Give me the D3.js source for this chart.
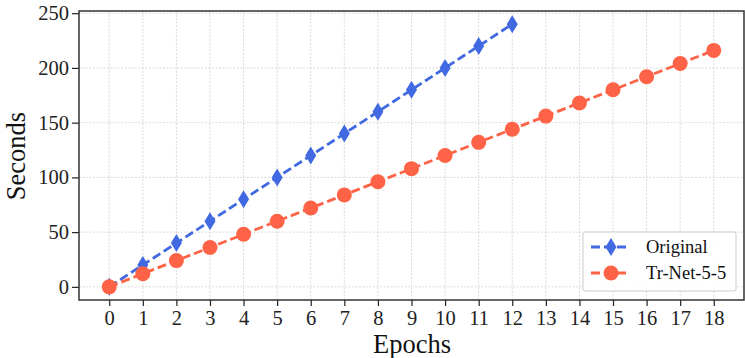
<!DOCTYPE html>
<html>
<head>
<meta charset="utf-8">
<script src="https://cdn.jsdelivr.net/npm/d3@7"></script>
<style>
  body { margin: 0; background: #fff; }
  svg text { font-family: "Liberation Serif", "Times New Roman", Times, serif; }
</style>
</head>
<body>
<div id="chart"></div>
<script>
const epochs = d3.range(0, 19);
const originalEpochs = [0, 1, 2, 3, 4, 5, 6, 7, 8, 9, 10, 11, 12];
const originalSeconds = [0, 20, 40, 60, 80, 100, 120, 140, 160, 180, 200, 220, 240];
const trNetEpochs = [0, 1, 2, 3, 4, 5, 6, 7, 8, 9, 10, 11, 12, 13, 14, 15, 16, 17, 18];
const trNetSeconds = [0, 12, 24, 36, 48, 60, 72, 84, 96, 108, 120, 132, 144, 156, 168, 180, 192, 204, 216];
const yTicks = [0, 50, 100, 150, 200, 250];

const serif = '"Liberation Serif", "Times New Roman", Times, serif';
const W = 745, H = 358;
const margin = { top: 11, right: 1, bottom: 58, left: 79 };
const width = W - margin.left - margin.right;
const height = H - margin.top - margin.bottom;

const svg = d3.select('#chart').append('svg')
  .attr('width', W).attr('height', H);
const g = svg.append('g').attr('transform', `translate(${margin.left},${margin.top})`);

const x = d3.scaleLinear().domain([-0.9, 18.9]).range([0, width]);
const y = d3.scaleLinear().domain([-12, 252]).range([height, 0]);

// grid
g.append('g').selectAll('line').data(epochs).enter().append('line')
  .attr('x1', d => x(d)).attr('x2', d => x(d))
  .attr('y1', 0).attr('y2', height)
  .attr('stroke', '#d0d0d0').attr('stroke-width', 0.8).attr('stroke-dasharray', '2,1.5');
g.append('g').selectAll('line').data(yTicks).enter().append('line')
  .attr('x1', 0).attr('x2', width)
  .attr('y1', d => y(d)).attr('y2', d => y(d))
  .attr('stroke', '#d0d0d0').attr('stroke-width', 0.8).attr('stroke-dasharray', '2,1.5');

// axes
const xAxis = g.append('g').attr('transform', `translate(0,${height})`)
  .call(d3.axisBottom(x).tickValues(epochs).tickSize(6).tickPadding(4).tickFormat(d3.format('d')));
const yAxis = g.append('g')
  .call(d3.axisLeft(y).tickValues(yTicks).tickSize(7).tickPadding(3));
[xAxis, yAxis].forEach(a => {
  a.attr('font-size', 20.5).attr('font-family', serif);
  a.select('.domain').remove();
  a.selectAll('text').attr('fill', '#222');
  a.selectAll('line').attr('stroke', '#222').attr('stroke-width', 1.2);
});

// frame
g.append('rect').attr('x', 0).attr('y', 0).attr('width', width).attr('height', height)
  .attr('fill', 'none').attr('stroke', '#333').attr('stroke-width', 1.5);

// series
const line = d3.line().x(d => x(d[0])).y(d => y(d[1]));
const trData = trNetEpochs.map((e, i) => [e, trNetSeconds[i]]);
const orData = originalEpochs.map((e, i) => [e, originalSeconds[i]]);

const diamond = (cx, cy) => `M${cx},${cy - 9}L${cx + 5.5},${cy}L${cx},${cy + 9}L${cx - 5.5},${cy}Z`;

g.append('path').datum(orData).attr('d', line)
  .attr('fill', 'none').attr('stroke', '#4169E1').attr('stroke-width', 2.8).attr('stroke-dasharray', '9,4');
g.append('g').selectAll('path').data(orData).enter().append('path')
  .attr('d', d => diamond(x(d[0]), y(d[1])))
  .attr('fill', '#4169E1');

g.append('path').datum(trData).attr('d', line)
  .attr('fill', 'none').attr('stroke', '#FF6347').attr('stroke-width', 2.8).attr('stroke-dasharray', '9,4');
g.append('g').selectAll('circle').data(trData).enter().append('circle')
  .attr('cx', d => x(d[0])).attr('cy', d => y(d[1])).attr('r', 7.5)
  .attr('fill', '#FF6347');

// labels
svg.append('text').attr('x', 412).attr('y', 353)
  .attr('text-anchor', 'middle').attr('font-size', 26.5).attr('font-family', serif).attr('fill', '#111').text('Epochs');
svg.append('text').attr('transform', `translate(25,156) rotate(-90)`)
  .attr('text-anchor', 'middle').attr('font-size', 26.5).attr('font-family', serif).attr('fill', '#111').text('Seconds');

// legend
const lg = svg.append('g').attr('transform', 'translate(583,232)');
lg.append('rect').attr('width', 153).attr('height', 59).attr('rx', 2)
  .attr('fill', '#fff').attr('fill-opacity', 0.85).attr('stroke', '#ccc').attr('stroke-width', 1);
const items = [
  { name: 'Original', color: '#4169E1', shape: 'diamond' },
  { name: 'Tr-Net-5-5', color: '#FF6347', shape: 'circle' }
];
items.forEach((it, i) => {
  const cy = 15 + i * 26;
  lg.append('line').attr('x1', 8).attr('x2', 46).attr('y1', cy).attr('y2', cy)
    .attr('stroke', it.color).attr('stroke-width', 2.8).attr('stroke-dasharray', '9,4');
  if (it.shape === 'diamond') {
    lg.append('path').attr('d', diamond(28, cy)).attr('fill', it.color);
  } else {
    lg.append('circle').attr('cx', 28).attr('cy', cy).attr('r', 7.5).attr('fill', it.color);
  }
  lg.append('text').attr('x', 63).attr('y', cy + 6).attr('font-size', 18.5).attr('font-family', serif).attr('fill', '#111').text(it.name);
});
</script>
</body>
</html>
